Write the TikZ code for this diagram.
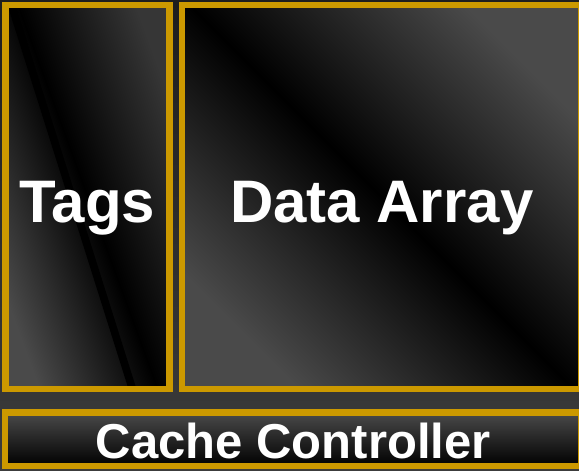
\documentclass[tikz,border=0pt]{standalone}
\usepackage{fontspec}
\setmainfont{Liberation Sans}
\usetikzlibrary{calc}

\definecolor{gold}{HTML}{CC9900}
\definecolor{bgtop}{HTML}{1E1E1E}
\definecolor{bgbottom}{HTML}{3C3C3C}
\definecolor{glossA}{HTML}{363636}
\definecolor{glossB}{HTML}{4A4A4A}

\begin{document}
\begin{tikzpicture}[%
          x=1pt, y=-1pt,
          block/.style={draw=gold, line width=6.5pt, inner sep=0pt,
                        text=white, text depth=0pt},
          bigtext/.style={font=\bfseries\fontsize{60}{60}\selectfont, text height=50pt},
          smalltext/.style={font=\bfseries\fontsize{49}{49}\selectfont, text height=37.5pt},
          streak/.style={fill=black, draw=none}]

  \useasboundingbox (0,0) rectangle (579,471);
  \clip (0,0) rectangle (579,471);
  \shade[top color=bgtop, bottom color=bgbottom] (0,0) rectangle (579,471);

  \node[block, bigtext, minimum width=164pt, minimum height=384pt,
        left color=glossA, right color=glossB, middle color=black, shading angle=-70,
        path picture={
          \fill[streak] ($(path picture bounding box.north west)+(2,0)$)
            -- ($(path picture bounding box.north west)+(10,0)$)
            -- ($(path picture bounding box.south west)+(131,0)$)
            -- ($(path picture bounding box.south west)+(123,0)$) -- cycle;}]
        (tags) at (87.5, 197) {Tags};

  \node[block, bigtext, minimum width=399.5pt, minimum height=384pt,
        left color=glossB, right color=glossB, middle color=black, shading angle=-45]
        (data) at (381.75, 197) {Data Array};

  \node[block, smalltext, minimum width=576.5pt, minimum height=53.5pt,
        top color=glossB, bottom color=black]
        (ctrl) at (293.25, 439.25) {Cache Controller};

\end{tikzpicture}
\end{document}
